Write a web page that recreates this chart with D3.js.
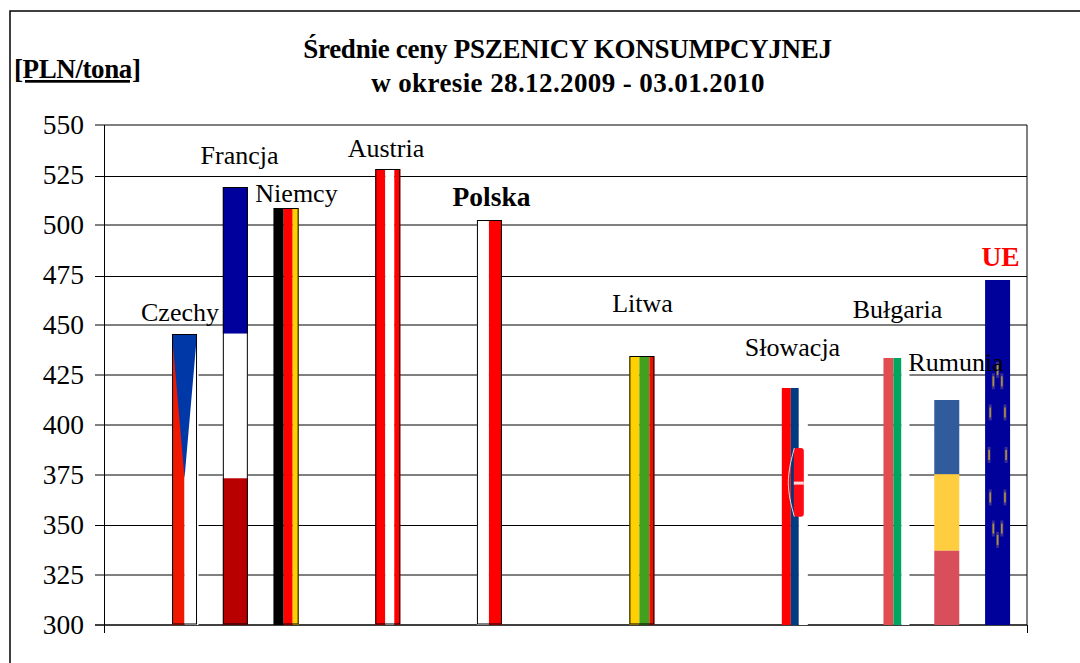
<!DOCTYPE html>
<html lang="pl">
<head>
<meta charset="utf-8">
<title>Średnie ceny pszenicy</title>
<script src="https://cdn.jsdelivr.net/npm/d3@7"></script>
<style>
  html, body { margin: 0; padding: 0; background: #fff; }
  svg { display: block; }
  text { font-family: "Liberation Serif", serif; fill: #000; }
</style>
</head>
<body>
<script>
// data
var slots = 18;
var countries = ["Czechy", "Francja", "Niemcy", "Austria", "Polska", "Litwa", "Słowacja", "Bułgaria", "Rumunia", "UE"];
var slotIndex = [1, 2, 3, 5, 7, 10, 13, 15, 16, 17];
var prices = [445.5, 519, 508.5, 528, 502.5, 434.5, 418.5, 433.5, 412.5, 472.5];
var yTicks = [300, 325, 350, 375, 400, 425, 450, 475, 500, 525, 550];
var blackGrid = { 350: 0.5, 475: 1.5, 525: 1.5 };

var w = 1080, h = 663;
var svg = d3.select("body").append("svg").attr("width", w).attr("height", h);

var xScale = d3.scaleBand().domain(d3.range(slots)).range([108.3, 1023]).paddingInner(0.5).paddingOuter(0.25);
var yScale = d3.scaleLinear().domain([300, 550]).range([625, 125]);
var barW = 25;

function barX(i) { return xScale(slotIndex[i]) + xScale.bandwidth() / 2 - barW / 2; }
function barY(i) { return yScale(prices[i]); }
function barH(i) { return yScale(300) - yScale(prices[i]); }
function gridY(d) { return yScale(d) + (blackGrid[d] || 0); }

// chart frame, only top and left are inside the picture
svg.append("path").attr("d", "M10,663V11H1080").attr("fill", "none").attr("stroke", "#000").attr("stroke-width", 1.5);

// gridlines
svg.selectAll("line.grid").data(yTicks).enter().append("line")
  .attr("class", "grid")
  .attr("x1", 95).attr("x2", 1027)
  .attr("y1", gridY)
  .attr("y2", gridY)
  .attr("stroke", "#000").attr("stroke-width", function(d) { return d === 300 ? 1.3 : 1; });

// plot edges and the two end ticks under the axis
svg.append("line").attr("x1", 104.5).attr("x2", 104.5).attr("y1", 125).attr("y2", 633).attr("stroke", "#000");
svg.append("line").attr("x1", 1027).attr("x2", 1027).attr("y1", 125).attr("y2", 625).attr("stroke", "#000");
svg.append("line").attr("x1", 1027.5).attr("x2", 1027.5).attr("y1", 625).attr("y2", 633).attr("stroke", "#000");

svg.selectAll("text.tick").data(yTicks).enter().append("text")
  .attr("class", "tick")
  .attr("x", 84).attr("text-anchor", "end")
  .attr("y", function(d) { return yScale(d) + 9; })
  .attr("font-size", "27.5px")
  .text(function(d) { return d; });

// flags, each drawn as pieces of its bar
function vStripes(g, x, y, bh, list) {
  // list: [start, end, colour] as share of bar width
  list.forEach(function(s) {
    g.append("rect").attr("x", x + s[0] * barW).attr("y", y)
      .attr("width", (s[1] - s[0]) * barW).attr("height", bh).attr("fill", s[2]);
  });
}
function hStripes(g, x, y, bh, list) {
  list.forEach(function(s) {
    g.append("rect").attr("x", x).attr("y", y + s[0] * bh)
      .attr("width", barW).attr("height", (s[1] - s[0]) * bh).attr("fill", s[2]);
  });
}
function frame(g, x, y, bh) {
  g.append("rect").attr("x", x + 0.5).attr("y", y + 0.5).attr("width", barW - 1).attr("height", bh - 1.5)
    .attr("fill", "none").attr("stroke", "#000").attr("stroke-width", 1);
}

var flagDraw = {
  "Czechy": function(g, x, y, bh) {
    vStripes(g, x, y, bh, [[0, 0.5, "#f01800"], [0.5, 1.06, "#fff"]]);
    g.append("path").attr("fill", "#0038a8")
      .attr("d", d3.line()([[x, y], [x + barW, y], [x + barW / 2, y + bh * 0.495]]) + "Z");
    frame(g, x, y, bh);
  },
  "Francja": function(g, x, y, bh) {
    hStripes(g, x, y, bh, [[0, 0.335, "#00009c"], [0.335, 0.665, "#fff"], [0.665, 1, "#b90000"]]);
    frame(g, x, y, bh);
  },
  "Niemcy": function(g, x, y, bh) {
    vStripes(g, x, y, bh, [[0, 0.4, "#000"], [0.4, 0.76, "#ff0000"], [0.76, 1, "#ffd000"]]);
    frame(g, x, y, bh);
  },
  "Austria": function(g, x, y, bh) {
    vStripes(g, x, y, bh, [[0, 0.4, "#ff0000"], [0.4, 0.76, "#fff"], [0.76, 1, "#ff0000"]]);
    frame(g, x, y, bh);
  },
  "Polska": function(g, x, y, bh) {
    vStripes(g, x, y, bh, [[0, 0.48, "#fff"], [0.48, 1, "#ff0000"]]);
    frame(g, x, y, bh);
  },
  "Litwa": function(g, x, y, bh) {
    vStripes(g, x, y, bh, [[0, 0.4, "#ffd000"], [0.4, 0.8, "#43a01e"], [0.8, 1, "#e81000"]]);
    frame(g, x, y, bh);
  },
  "Słowacja": function(g, x, y, bh) {
    vStripes(g, x, y, bh, [[0, 0.36, "#ff0000"], [0.36, 0.68, "#003a80"], [0.68, 1.04, "#fff"]]);
    // squeezed coat of arms
    g.append("rect").attr("x", x + 0.48 * barW).attr("y", y + bh * 0.253).attr("width", 0.4 * barW).attr("height", bh * 0.29)
      .attr("rx", 3).attr("fill", "#ff0a14");
    g.append("path").attr("fill", "none").attr("stroke", "#d8e0ee").attr("stroke-width", 1)
      .attr("d", d3.line().curve(d3.curveBasis)([[x + 0.5 * barW, y + bh * 0.253], [x + 0.14 * barW, y + bh * 0.4], [x + 0.5 * barW, y + bh * 0.543]]));
    g.append("rect").attr("x", x + 0.48 * barW).attr("y", y + bh * 0.395).attr("width", 0.4 * barW).attr("height", 3).attr("fill", "#ffd8d8");
  },
  "Bułgaria": function(g, x, y, bh) {
    vStripes(g, x, y, bh, [[0, 0.4, "#e04e50"], [0.4, 0.72, "#00a660"], [0.72, 1.04, "#fff"]]);
  },
  "Rumunia": function(g, x, y, bh) {
    hStripes(g, x, y, bh, [[0, 0.33, "#305c9c"], [0.33, 0.67, "#ffcd40"], [0.67, 1, "#d84e5a"]]);
  },
  "UE": function(g, x, y, bh) {
    hStripes(g, x, y, bh, [[0, 1, "#00009a"]]);
    // ring of stars, squeezed with the picture
    var cx = x + barW / 2, cy = y + bh * 0.507;
    d3.range(12).forEach(function(k) {
      var a = k * Math.PI / 6;
      g.append("rect").attr("x", cx + 8.5 * Math.sin(a) - 1.5).attr("y", cy - 85 * Math.cos(a) - 8)
        .attr("width", 3).attr("height", 16).attr("fill", "#3a2f8c");
      g.append("rect").attr("x", cx + 8.5 * Math.sin(a) - 0.8).attr("y", cy - 85 * Math.cos(a) - 5)
        .attr("width", 1.6).attr("height", 10).attr("fill", "#b0923c");
    });
  }
};

svg.selectAll("g.bar").data(countries).enter().append("g")
  .attr("class", "bar")
  .each(function(d, i) {
    flagDraw[d](d3.select(this), barX(i), barY(i), barH(i));
  });

// country labels
var labelX = [180, 239.5, 296.5, 386, 491.5, 642.5, 792.5, 897.5, 956, 1000.5];
var labelY = [321, 164, 202, 157, 206, 312, 356, 318, 371, 266];
var isBold = function(d) { return d === "Polska" || d === "UE"; };
svg.selectAll("text.country").data(countries).enter().append("text")
  .attr("class", "country")
  .attr("x", function(d, i) { return labelX[i]; })
  .attr("y", function(d, i) { return labelY[i]; })
  .attr("text-anchor", "middle")
  .attr("font-size", function(d) { return isBold(d) ? "27.5px" : "26px"; })
  .attr("font-weight", function(d) { return isBold(d) ? "bold" : "normal"; })
  .style("fill", function(d) { return d === "UE" ? "#ff0000" : "#000"; })
  .text(function(d) { return d; });

// titles
svg.append("text").attr("x", 567.5).attr("y", 58).attr("text-anchor", "middle")
  .attr("font-size", "27px").attr("font-weight", "bold").attr("letter-spacing", "-0.26px")
  .text("Średnie ceny PSZENICY KONSUMPCYJNEJ");
svg.append("text").attr("x", 568).attr("y", 92).attr("text-anchor", "middle")
  .attr("font-size", "27px").attr("font-weight", "bold").attr("letter-spacing", "0.4px")
  .text("w okresie 28.12.2009 - 03.01.2010");
svg.append("text").attr("x", 14).attr("y", 78)
  .attr("font-size", "27px").attr("font-weight", "bold").attr("letter-spacing", "-0.4px")
  .attr("text-decoration", "underline")
  .text("[PLN/tona]");
</script>
</body>
</html>
